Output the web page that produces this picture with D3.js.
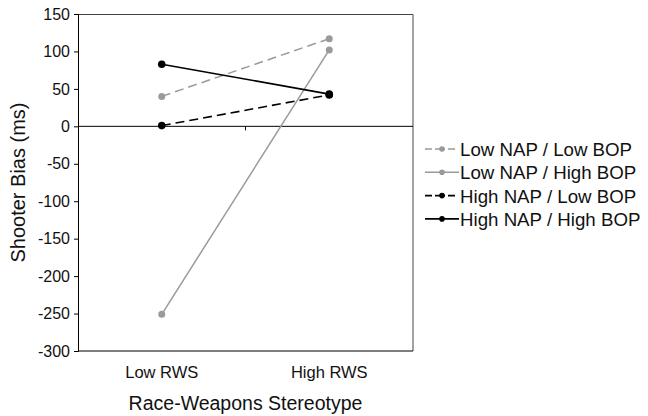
<!DOCTYPE html>
<html>
<head>
<meta charset="utf-8">
<script src="https://cdn.jsdelivr.net/npm/d3@7"></script>
<style>
  body { margin: 0; background: #fff; }
  text { font-family: "Liberation Sans", Arial, sans-serif; fill: #111; }
</style>
</head>
<body>
<svg id="chart" width="648" height="416"></svg>
<script>
// chart data
const categories = ['Low RWS', 'High RWS'];
const seriesNames = ['Low NAP / Low BOP', 'Low NAP / High BOP', 'High NAP / Low BOP', 'High NAP / High BOP'];
const lowNapLowBop = [40, 117];
const lowNapHighBop = [-251, 102];
const highNapLowBop = [1, 42];
const highNapHighBop = [83, 43];
const yTicks = [150, 100, 50, 0, -50, -100, -150, -200, -250, -300];

const series = [
    { name: seriesNames[0], values: lowNapLowBop, color: '#9a9a9a', dash: '9,5', r: 3.5 },
    { name: seriesNames[1], values: lowNapHighBop, color: '#9a9a9a', dash: null, r: 3.5 },
    { name: seriesNames[2], values: highNapLowBop, color: '#000', dash: '9,5', r: 3.8 },
    { name: seriesNames[3], values: highNapHighBop, color: '#000', dash: null, r: 3.8 }
];

const svg = d3.select('#chart');
const margin = { top: 14, left: 78 };
const width = 335;
const height = 337;

const g = svg.append('g')
    .attr('transform', `translate(${margin.left},${margin.top})`);

const xScale = d3.scaleBand()
    .domain(categories)
    .range([0, width]);

const yScale = d3.scaleLinear()
    .domain([-300, 150])
    .range([height, 0]);

// plot frame (top and right)
g.append('path')
    .attr('d', `M0,0.5H${width}V${height}`)
    .attr('fill', 'none')
    .attr('stroke', '#444')
    .attr('stroke-width', 1);
g.append('line')
    .attr('x1', 0).attr('x2', width)
    .attr('y1', height).attr('y2', height)
    .attr('stroke', '#000');

// Y axis - plain hyphen for negatives like the original
const yAxis = g.append('g')
    .call(d3.axisLeft(yScale).tickValues(yTicks).tickSize(4).tickPadding(4).tickFormat(d => String(d)));
yAxis.select('.domain').attr('stroke', '#000');
yAxis.selectAll('text').attr('font-size', '16px').attr('fill', '#111')
    .style('font-family', '"Liberation Sans", Arial, sans-serif');

// zero line with middle tick
g.append('line')
    .attr('x1', 0).attr('x2', width)
    .attr('y1', yScale(0)).attr('y2', yScale(0))
    .attr('stroke', '#000');
g.append('line')
    .attr('x1', xScale('High RWS')).attr('x2', xScale('High RWS'))
    .attr('y1', yScale(0)).attr('y2', yScale(0) + 4)
    .attr('stroke', '#000');

// category labels
g.selectAll('.cat')
    .data(categories)
    .enter()
    .append('text')
    .attr('class', 'cat')
    .attr('x', d => xScale(d) + xScale.bandwidth() / 2)
    .attr('y', height + 27)
    .attr('text-anchor', 'middle')
    .attr('font-size', '16.5px')
    .text(d => d);

// lines and markers
const line = d3.line()
    .x((d, i) => xScale(categories[i]) + xScale.bandwidth() / 2)
    .y(d => yScale(d));

series.forEach(s => {
    g.append('path')
        .datum(s.values)
        .attr('d', line)
        .attr('fill', 'none')
        .attr('stroke', s.color)
        .attr('stroke-width', s.color === '#000' ? 1.6 : 1.5)
        .attr('stroke-dasharray', s.dash);
    g.selectAll(null)
        .data(s.values)
        .enter()
        .append('circle')
        .attr('cx', (d, i) => xScale(categories[i]) + xScale.bandwidth() / 2)
        .attr('cy', d => yScale(d))
        .attr('r', s.r)
        .attr('fill', s.color);
});

// axis titles
svg.append('text')
    .attr('transform', `translate(25,${margin.top + height / 2}) rotate(-90)`)
    .attr('text-anchor', 'middle')
    .attr('font-size', '20px')
    .text('Shooter Bias (ms)');

svg.append('text')
    .attr('x', margin.left + width / 2)
    .attr('y', 410)
    .attr('text-anchor', 'middle')
    .attr('font-size', '19.5px')
    .text('Race-Weapons Stereotype');

// legend
const legend = svg.append('g').attr('transform', 'translate(425,149)');
series.forEach((s, i) => {
    const row = legend.append('g').attr('transform', `translate(0,${i * 23.3})`);
    row.append('line')
        .attr('x1', 0).attr('x2', 34)
        .attr('stroke', s.color)
        .attr('stroke-width', 1.6)
        .attr('stroke-dasharray', s.dash ? '7,3,10,3,7' : null);
    row.append('circle').attr('cx', 17).attr('r', 2.8).attr('fill', s.color);
    row.append('text')
        .attr('x', 35)
        .attr('y', 7)
        .attr('font-size', '18.7px')
        .text(s.name);
});
</script>
</body>
</html>
